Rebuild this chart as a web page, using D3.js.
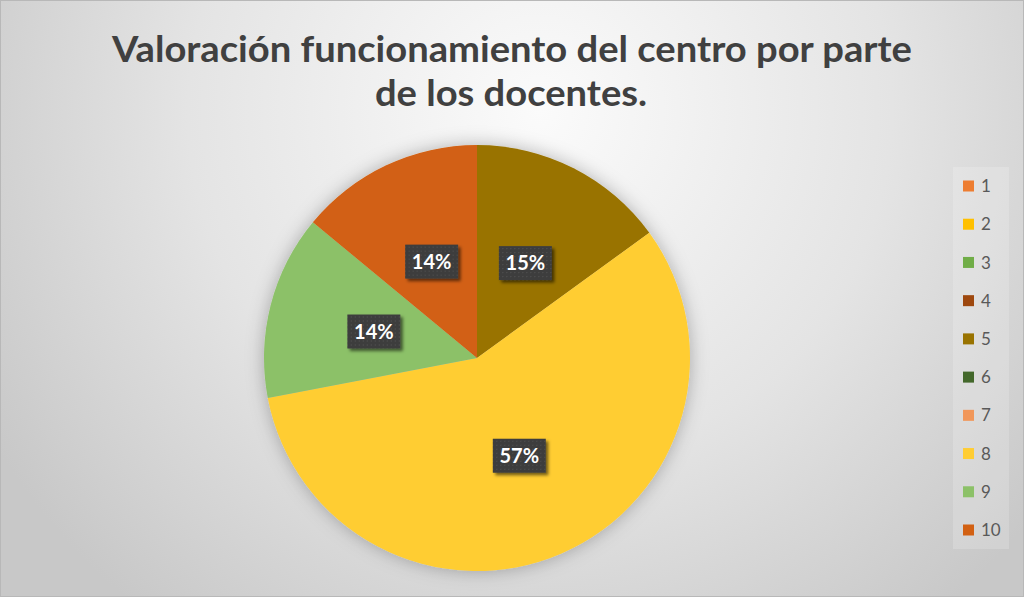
<!DOCTYPE html>
<html>
<head>
<meta charset="utf-8">
<script src="https://cdn.jsdelivr.net/npm/d3@7"></script>
<style>
  html, body { margin: 0; padding: 0; background: #fff; }
  svg { display: block; }
</style>
</head>
<body>
<div id="chart"></div>
<script>
// data
const categories = ["1", "2", "3", "4", "5", "6", "7", "8", "9", "10"];
const values = [0, 0, 0, 0, 15, 0, 0, 57, 14, 14]; // percent
const colors = ["#ED7D31", "#FFC000", "#70AD47", "#9E480E", "#997300",
                "#43682B", "#F1975A", "#FFCD33", "#8CC168", "#D26012"];
const titleLines = ["Valoración funcionamiento del centro por parte", "de los docentes."];

const W = 1024, H = 597;
const cx = 477, cy = 358, R = 213;

const svg = d3.select("#chart").append("svg")
    .attr("width", W)
    .attr("height", H);

const defs = svg.append("defs");

// background gradient, light near the top centre
const bg = defs.append("radialGradient")
    .attr("id", "bg")
    .attr("gradientUnits", "userSpaceOnUse")
    .attr("cx", 540).attr("cy", 110).attr("r", 640);
bg.append("stop").attr("offset", "0").attr("stop-color", "#fbfbfb");
bg.append("stop").attr("offset", "0.55").attr("stop-color", "#e4e4e4");
bg.append("stop").attr("offset", "1").attr("stop-color", "#c8c8c8");

// soft glow round the pie
const glow = defs.append("filter").attr("id", "glow")
    .attr("x", "-20%").attr("y", "-20%").attr("width", "140%").attr("height", "140%");
glow.append("feDropShadow")
    .attr("dx", 0).attr("dy", 0)
    .attr("stdDeviation", 9)
    .attr("flood-color", "#000")
    .attr("flood-opacity", 0.28);

// label box shadow
const lblShadow = defs.append("filter").attr("id", "lblShadow")
    .attr("x", "-30%").attr("y", "-30%").attr("width", "160%").attr("height", "160%");
lblShadow.append("feDropShadow")
    .attr("dx", 2.5).attr("dy", 2.5)
    .attr("stdDeviation", 1.8)
    .attr("flood-color", "#000")
    .attr("flood-opacity", 0.55);

// dotted texture on the label boxes
const pat = defs.append("pattern").attr("id", "dots")
    .attr("patternUnits", "userSpaceOnUse")
    .attr("width", 4).attr("height", 4);
pat.append("rect").attr("width", 4).attr("height", 4).attr("fill", "#3d3d3d");
pat.append("rect").attr("x", 1).attr("y", 1).attr("width", 1).attr("height", 1).attr("fill", "#555");

svg.append("rect")
    .attr("width", W).attr("height", H)
    .attr("fill", "url(#bg)");
svg.append("rect")
    .attr("x", 0.5).attr("y", 0.5)
    .attr("width", W - 1).attr("height", H - 1)
    .attr("fill", "none")
    .attr("stroke", "#b8b8b8");

// title
const title = svg.append("g").attr("class", "title");
const t1 = title.append("text")
    .attr("x", 512).attr("y", 61.5)
    .text(titleLines[0]);
const t2 = title.append("text")
    .attr("x", 511).attr("y", 106)
    .text(titleLines[1]);
title.selectAll("text")
    .attr("text-anchor", "middle")
    .attr("font-family", "Lato, 'Open Sans', sans-serif")
    .attr("font-weight", "bold")
    .attr("font-size", 37)
    .attr("fill", "#404040");
// Calibri is narrower than anything installed, so squeeze to the same width
const k = 800 / t1.node().getComputedTextLength();
t1.attr("textLength", 800).attr("lengthAdjust", "spacingAndGlyphs");
t2.attr("textLength", t2.node().getComputedTextLength() * k).attr("lengthAdjust", "spacingAndGlyphs");

// pie
const pie = d3.pie().sort(null).value(d => d.value);
const arcs = pie(categories.map((c, i) => ({ cat: c, value: values[i], color: colors[i] })));
const arc = d3.arc().innerRadius(0).outerRadius(R);
const labelArc = d3.arc().innerRadius(R * 0.5).outerRadius(R * 0.5);

const pieG = svg.append("g")
    .attr("transform", `translate(${cx},${cy})`);

pieG.append("g")
    .attr("filter", "url(#glow)")
    .selectAll("path")
    .data(arcs.filter(d => d.data.value > 0))
    .enter()
    .append("path")
    .attr("d", arc)
    .attr("fill", d => d.data.color);

const labels = pieG.selectAll(".lbl")
    .data(arcs.filter(d => d.data.value > 0))
    .enter()
    .append("g")
    .attr("class", "lbl")
    .attr("transform", d => `translate(${labelArc.centroid(d)})`);

labels.append("rect")
    .attr("x", -26.5).attr("y", -17)
    .attr("width", 53).attr("height", 34)
    .attr("fill", "url(#dots)")
    .attr("filter", "url(#lblShadow)");

labels.append("text")
    .attr("text-anchor", "middle")
    .attr("dy", "0.36em")
    .attr("font-family", "Lato, 'Open Sans', sans-serif")
    .attr("font-weight", "bold")
    .attr("font-size", 20)
    .attr("fill", "#fff")
    .text(d => d.data.value + "%");

// legend
const legend = svg.append("g").attr("class", "legend");
legend.append("rect")
    .attr("x", 953).attr("y", 167)
    .attr("width", 56).attr("height", 382)
    .attr("fill", "#ffffff")
    .attr("fill-opacity", 0.18);

const ly = d3.scalePoint().domain(categories).range([186, 530]);

const item = legend.selectAll(".item")
    .data(categories)
    .enter()
    .append("g")
    .attr("class", "item")
    .attr("transform", d => `translate(963,${ly(d)})`);

item.append("rect")
    .attr("x", 0).attr("y", -5.5)
    .attr("width", 11).attr("height", 11)
    .attr("fill", (d, i) => colors[i]);

item.append("text")
    .attr("x", 18).attr("dy", "0.36em")
    .attr("font-family", "Lato, 'Open Sans', sans-serif")
    .attr("font-size", 17)
    .attr("fill", "#595959")
    .text(d => d);
</script>
</body>
</html>
